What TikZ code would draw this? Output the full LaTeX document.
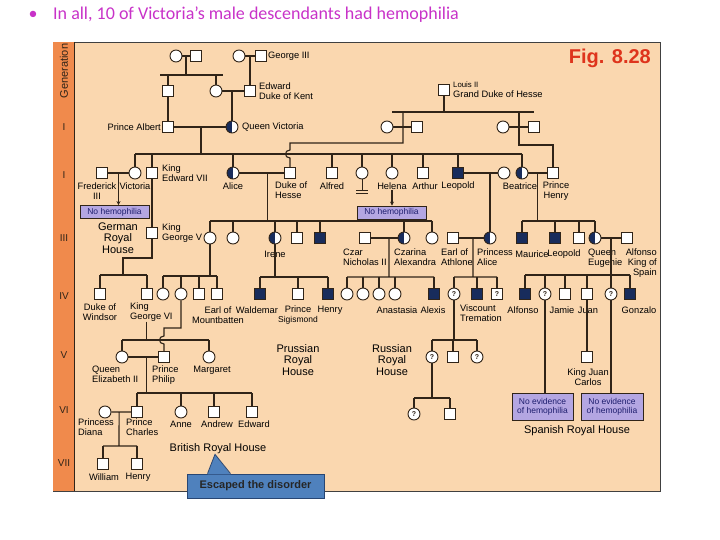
\documentclass[tikz,border=0pt]{standalone}
\usepackage{fontspec}
\setmainfont{Liberation Sans}
\newfontfamily\headfont{Carlito}
\usetikzlibrary{calc,arrows.meta}
\definecolor{peach}{RGB}{250,215,175}
\definecolor{genorange}{RGB}{240,138,76}
\definecolor{affected}{RGB}{24,44,92}
\definecolor{linec}{RGB}{48,36,24}
\definecolor{lavender}{RGB}{180,166,226}
\definecolor{boxtext}{RGB}{30,30,110}
\definecolor{calloutblue}{RGB}{79,129,189}
\definecolor{calloutedge}{RGB}{40,70,115}
\definecolor{headmagenta}{RGB}{200,50,200}
\definecolor{figred}{RGB}{222,52,28}
\tikzset{ln/.style={draw=linec, line width=1.1pt}}
\tikzset{thinln/.style={draw=linec, line width=0.5pt}}
\tikzset{sq/.style={rectangle, draw=linec, line width=0.9pt, fill=white, minimum size=11.5pt, inner sep=0pt}}
\tikzset{hs/.style={sq, fill=affected}}
\tikzset{ci/.style={circle, draw=linec, line width=0.9pt, fill=white, minimum size=12pt, inner sep=0pt}}
\tikzset{cc/.style={ci, path picture={\fill[affected] (path picture bounding box.south west) rectangle (path picture bounding box.north);}}}
\tikzset{uc/.style={ci, text=linec, font=\bfseries\fontsize{7}{7}\selectfont}}
\tikzset{us/.style={sq, text=linec, font=\bfseries\fontsize{7}{7}\selectfont}}
\tikzset{lab/.style={inner sep=0pt, align=center, font=\fontsize{9.3}{10}\selectfont}}
\tikzset{house/.style={inner sep=0pt, align=center, font=\fontsize{11}{11.5}\selectfont}}
\tikzset{nobox/.style={draw=linec, line width=0.8pt, fill=lavender, text=boxtext, inner sep=0pt, align=center, font=\fontsize{8.5}{8.8}\selectfont}}
\tikzset{gen/.style={inner sep=0pt, text=linec, font=\fontsize{10}{10}\selectfont}}
\tikzset{arr/.style={-{Stealth[length=4pt,width=4pt]}}}

\begin{document}
\begin{tikzpicture}[x=1pt, y=-1pt]
\useasboundingbox (0,0) rectangle (720,540);
\node[text=headmagenta, font=\headfont\fontsize{18}{18}\selectfont, inner sep=0pt] (bullet) at (33,15) {\textbullet};
\node[anchor=west, text=headmagenta, font=\headfont\fontsize{18}{18}\selectfont, inner sep=0pt] (title) at (53,15) {In all, 10 of Victoria’s male descendants had hemophilia};
\draw[fill=peach, draw=black!75, line width=0.8pt] (53,42) rectangle (660,491);
\fill[genorange] (53.4,42.4) rectangle (74,490.6);
\draw[linec, line width=0.7pt] (74,42) -- (74,491);
\node[gen, rotate=90, font=\fontsize{11}{11}\selectfont] (genlab) at (64,71) {Generation};
\node[gen] (gi) at (64,127) {I};
\node[gen] (gii) at (64,175) {I};
\node[gen] (giii) at (64,238) {III};
\node[gen] (giv) at (64,296) {IV};
\node[gen] (gv5) at (64,355) {V};
\node[gen] (gvi6) at (64,410) {VI};
\node[gen] (gvii) at (64,463) {VII};
\node[anchor=east, inner sep=0pt, text=figred, font=\bfseries\fontsize{20}{20}\selectfont] (fig) at (651,58) {Fig. 8.28};

% top generations
\node[ci] (gm1) at (176,56) {};
\node[sq] (gf1) at (196,56) {};
\node[ci] (gm2) at (239,56) {};
\node[sq] (g3) at (261,56) {};
\node[lab, anchor=west] (g3lab) at (268,56) {George III};
\node[sq] (a1) at (168,91) {};
\node[ci] (vm) at (216,91) {};
\node[sq] (ekent) at (250,91) {};
\node[lab, anchor=west, align=left] (ekentlab) at (259,91) {Edward\\Duke of Kent};
\node[sq] (louis) at (444,90) {};
\node[lab, anchor=west, align=left] (louislab) at (453,90) {{\fontsize{7.8}{8}\selectfont Louis II}\\Grand Duke of Hesse};
\node[sq] (albert) at (168,127) {};
\node[lab, anchor=east] (albertlab) at (161,127) {Prince Albert};
\node[cc] (qv) at (232,127) {};
\node[lab, anchor=west] (qvlab) at (242,127) {Queen Victoria};
\node[ci] (hm1) at (387,127) {};
\node[sq] (hf1) at (417,127) {};
\node[ci] (hm2) at (503,127) {};
\node[sq] (hf2) at (534,127) {};

\coordinate (sb0) at (186,75);
\coordinate (sb1) at (201,154);
\coordinate (sb2) at (444,112);
\coordinate (hd1) at (403,143);
\coordinate (hd2) at (519,145);
\draw[ln] (gm1) -- (gf1) (gm2) -- (g3) (vm) -- (ekent) (albert) -- (qv) (hm1) -- (hf1) (hm2) -- (hf2);
\draw[ln] (sb0 |- gm1) -- (sb0) ([xshift=-8pt]a1 |- sb0) -- ([xshift=7pt]vm |- sb0);
\draw[ln] (a1 |- sb0) -- (a1) (vm |- sb0) -- (vm) (ekent |- gm2) -- (ekent);
\draw[ln] (a1) -- (albert) (qv |- vm) -- (qv) (sb1 |- albert) -- (sb1);
\draw[ln] (louis) -- (sb2) ([xshift=5pt]hm1 |- sb2) -- (hf2 |- sb2);

% generation II
\node[sq] (fred) at (102,173) {};
\node[ci] (vic) at (135,173) {};
\node[sq] (edw) at (152,173) {};
\node[cc] (alice) at (233,173) {};
\node[sq] (hesse) at (290,173) {};
\node[sq] (alfred) at (332,173) {};
\node[ci] (louise) at (362,173) {};
\node[ci] (helena) at (392,173) {};
\node[sq] (arthur) at (423,173) {};
\node[hs] (leo) at (458,173) {};
\node[ci] (helen) at (504,173) {};
\node[cc] (beat) at (522,173) {};
\node[sq] (henry) at (553,173) {};
\node[lab] (fredlab) at (97,191) {Frederick\\III};
\node[lab] (viclab) at (135,186) {Victoria};
\node[lab, anchor=west, align=left] (edwlab) at (162,173) {King\\Edward VII};
\node[lab] (alicelab) at (233,186) {Alice};
\node[lab, anchor=north west, align=left] (hesselab) at (275,181.5) {Duke of\\Hesse};
\node[lab] (alfredlab) at (332,186) {Alfred};
\node[lab] (helenalab) at (392,186) {Helena};
\node[lab] (arthurlab) at (425,186) {Arthur};
\node[lab] (leolab) at (458,186) {Leopold};
\node[lab] (beatlab) at (520,186) {Beatrice};
\node[lab] (henrylab) at (556,191) {Prince\\Henry};
\node[nobox, minimum width=69pt, minimum height=13pt] (nh1) at (114.5,212) {No hemophilia};
\node[nobox, minimum width=69pt, minimum height=13pt] (nh2) at (391.5,212.5) {No hemophilia};

\draw[ln] (vic |- sb1) -- (beat |- sb1);
\draw[ln] (vic |- sb1) -- (vic) (edw |- sb1) -- (edw) (alice |- sb1) -- (alice) (alfred |- sb1) -- (alfred)
  (louise |- sb1) -- (louise) (helena |- sb1) -- (helena) (arthur |- sb1) -- (arthur) (leo |- sb1) -- (leo) (beat |- sb1) -- (beat);
\draw[ln] (hd1 |- sb2) -- (hd1) -- (hesse |- hd1) -- ([yshift=4pt]hesse |- sb1)
  .. controls +(-6,0) and +(-6,0) .. ([yshift=-4pt]hesse |- sb1) -- (hesse);
\draw[ln] (hd2 |- sb2) -- (hd2) -- (henry |- hd2) -- (henry);
\draw[ln] (fred) -- (vic) (alice) -- (hesse) (leo) -- (helen) (beat) -- (henry);
\coordinate (fd) at ($(fred)!.5!(vic)$);
\draw[ln, arr] (fd) -- (fd |- nh1.north);
\draw[ln, arr] (helenalab.south) -- (helenalab.south |- nh2.north);
\draw[linec, line width=0.8pt] (louise.south) -- ++(0,11) ++(-6,0) -- ++(12,0) ++(-12,3) -- ++(12,0);

% generation III
\node[house] (german) at (118,238) {German\\Royal\\House};
\node[sq] (gv) at (152,233) {};
\node[lab, anchor=west, align=left] (gvlab) at (162,233) {King\\George V};
\node[ci] (vmh) at (210,238) {};
\node[ci] (ella) at (233,238) {};
\node[cc] (irene) at (275,238) {};
\node[sq] (ernst) at (297,238) {};
\node[hs] (fritz) at (320,238) {};
\node[sq] (nicky) at (365,238) {};
\node[cc] (alix) at (404,238) {};
\node[ci] (vcm) at (432,238) {};
\node[sq] (athlone) at (453,238) {};
\node[cc] (palice) at (490,238) {};
\node[hs] (maurice) at (522,238) {};
\node[hs] (leo2) at (555,238) {};
\node[sq] (alex) at (579,238) {};
\node[cc] (ena) at (595,238) {};
\node[sq] (alfonso) at (627,238) {};
\node[lab] (irenelab) at (275,254) {Irene};
\node[lab, anchor=north west, align=left] (nickylab) at (343,249) {Czar\\Nicholas II};
\node[lab, anchor=north west, align=left] (alixlab) at (394,249) {Czarina\\Alexandra};
\node[lab, anchor=north west, align=left] (athlonelab) at (441,249) {Earl of\\Athlone};
\node[lab, anchor=north west, align=left] (palicelab) at (477,249) {Princess\\Alice};
\node[lab] (mauricelab) at (532,254) {Maurice};
\node[lab] (leo2lab) at (564,254) {Leopold};
\node[lab, anchor=north west, align=left] (enalab) at (588,249) {Queen\\Eugenie};
\node[lab, anchor=north east, align=right] (alfonsolab) at (657,249) {Alfonso\\King of\\Spain};

\coordinate (sb3) at (123,258);
\coordinate (sbw) at (123,275);
\coordinate (sba) at (267,221);
\coordinate (ad) at ($(alice)!.6!(hesse)$);
\coordinate (bd) at ($(beat)!.5!(henry)$);
\coordinate (sbb) at (539,221);
\draw[ln] (edw) -- (gv) (gv) -- (gv |- sb3) -- (sb3) -- (sbw);
\draw[ln] (ad) -- (ad |- sba) (vmh |- sba) -- (vcm |- sba);
\draw[ln] (vmh |- sba) -- (vmh) (ella |- sba) -- (ella) (irene |- sba) -- (irene) (ernst |- sba) -- (ernst)
  (fritz |- sba) -- (fritz) (alix |- sba) -- (alix) (vcm |- sba) -- (vcm);
\draw[ln] (palice |- leo) -- (palice);
\draw[ln] (bd) -- (bd |- sbb) (maurice |- sbb) -- (ena |- sbb);
\draw[ln] (maurice |- sbb) -- (maurice) (leo2 |- sbb) -- (leo2) (alex |- sbb) -- (alex) (ena |- sbb) -- (ena);
\draw[ln] (nicky) -- (alix) (athlone) -- (palice) (ena) -- (alfonso);

% generation IV
\node[sq] (windsor) at (100,294) {};
\node[sq] (gvi) at (147,294) {};
\node[ci] (mb1) at (163,294) {};
\node[ci] (mb2) at (181,294) {};
\node[sq] (mb3) at (199,294) {};
\node[sq] (mb4) at (217,294) {};
\node[hs] (waldemar) at (260,294) {};
\node[sq] (sigi) at (298,294) {};
\node[hs] (henryp) at (328,294) {};
\node[ci] (ro1) at (347,294) {};
\node[ci] (ro2) at (363,294) {};
\node[ci] (ro3) at (379,294) {};
\node[ci] (ro4) at (395,294) {};
\node[hs] (alexis) at (434,294) {};
\node[uc] (at1) at (454,294) {?};
\node[hs] (tremat) at (477,294) {};
\node[us] (at3) at (497,294) {?};
\node[hs] (sp1) at (525,294) {};
\node[uc] (sp2) at (545,294) {?};
\node[sq] (jamie) at (565,294) {};
\node[sq] (juan) at (587,294) {};
\node[uc] (sp5) at (611,294) {?};
\node[hs] (gonzalo) at (630,294) {};
\node[lab] (windsorlab) at (100,312) {Duke of\\Windsor};
\node[lab, anchor=north west, align=left] (gvilab) at (130,302.5) {King\\George VI};
\node[lab] (mblab) at (218,315) {Earl of\\Mountbatten};
\node[lab] (waldemarlab) at (257,310) {Waldemar};
\node[lab] (sigilab) at (298,315) {Prince\\{\fontsize{8.5}{9}\selectfont Sigismond}};
\node[lab] (henryplab) at (330,310) {Henry};
\node[lab] (anastasialab) at (397,310) {Anastasia};
\node[lab] (alexislab) at (433,310) {Alexis};
\node[lab, anchor=north west, align=left] (trematlab) at (460,305) {Viscount\\Tremation};
\node[lab] (sp1lab) at (523,310) {Alfonso};
\node[lab] (jamielab) at (562,310) {Jamie};
\node[lab] (juanlab) at (588,310) {Juan};
\node[lab] (gonzalolab) at (639,310) {Gonzalo};

\coordinate (sbm) at (210,276);
\coordinate (sbi) at (275,277);
\coordinate (nd) at ($(nicky)!.615!(alix)$);
\coordinate (sbn) at (389,277);
\coordinate (ld) at ($(athlone)!.54!(palice)$);
\coordinate (sbl) at (473,277);
\coordinate (sbs) at (611,275);
\draw[ln] (windsor |- sbw) -- (gvi |- sbw) (windsor |- sbw) -- (windsor) (gvi |- sbw) -- (gvi);
\draw[ln] (vmh) -- (sbm) (mb1 |- sbm) -- (mb4 |- sbm);
\draw[ln] (mb1 |- sbm) -- (mb1) (mb2 |- sbm) -- (mb2) (mb3 |- sbm) -- (mb3) (mb4 |- sbm) -- (mb4);
\draw[ln] (irene) -- (sbi) (waldemar |- sbi) -- (henryp |- sbi);
\draw[ln] (waldemar |- sbi) -- (waldemar) (sigi |- sbi) -- (sigi) (henryp |- sbi) -- (henryp);
\draw[ln] (nd) -- (sbn) (ro1 |- sbn) -- (alexis |- sbn);
\draw[ln] (ro1 |- sbn) -- (ro1) (ro2 |- sbn) -- (ro2) (ro3 |- sbn) -- (ro3) (ro4 |- sbn) -- (ro4) (alexis |- sbn) -- (alexis);
\draw[ln] (ld) -- (sbl) (at1 |- sbl) -- (at3 |- sbl);
\draw[ln] (at1 |- sbl) -- (at1) (tremat |- sbl) -- (tremat) (at3 |- sbl) -- (at3);
\draw[ln] (sp5 |- ena) -- (sp5) (sp1 |- sbs) -- (gonzalo |- sbs);
\draw[ln] (sp1 |- sbs) -- (sp1) (sp2 |- sbs) -- (sp2) (jamie |- sbs) -- (jamie) (juan |- sbs) -- (juan) (gonzalo |- sbs) -- (gonzalo);

% generation V
\node[ci] (qe2) at (122,357) {};
\node[sq] (philip) at (164,357) {};
\node[ci] (margaret) at (209,357) {};
\node[uc] (v1) at (432,357) {?};
\node[sq] (v2) at (453,357) {};
\node[uc] (v3) at (477,357) {?};
\node[sq] (jc) at (587,357) {};
\node[lab, anchor=north west, align=left] (qe2lab) at (92,365.5) {Queen\\Elizabeth II};
\node[lab, anchor=north west, align=left] (philiplab) at (152,365.5) {Prince\\Philip};
\node[lab] (margaretlab) at (212,370) {Margaret};
\node[lab] (jclab) at (588,377) {King Juan\\Carlos};
\node[house] (prussian) at (298,360) {Prussian\\Royal\\House};
\node[house] (russian) at (392,360) {Russian\\Royal\\House};
\node[nobox, minimum width=61pt, minimum height=27pt] (ne1) at (542.5,407) {No evidence\\of hemophilia};
\node[nobox, minimum width=62pt, minimum height=27pt] (ne2) at (612,407) {No evidence\\of hemophilia};
\node[house] (spanish) at (577,431) {Spanish Royal House};

\coordinate (sbe) at (146,340);
\coordinate (pd) at (181,328);
\coordinate (sbt) at (454,340);
\draw[thinln] (gvilab.south -| sbe) -- (sbe);
\draw[ln] (qe2 |- sbe) -- (margaret |- sbe) (qe2 |- sbe) -- (qe2) (margaret |- sbe) -- (margaret);
\draw[ln] (mb2) -- (pd) -- (philip |- pd) -- ([yshift=4pt]philip |- sbe)
  .. controls +(-6,0) and +(-6,0) .. ([yshift=-4pt]philip |- sbe) -- (philip);
\draw[ln] (qe2) -- (philip);
\draw[ln] (at1) -- (sbt) (v1 |- sbt) -- (v3 |- sbt);
\draw[ln] (v1 |- sbt) -- (v1) (v2 |- sbt) -- (v2) (v3 |- sbt) -- (v3);
\draw[ln] (juan) -- (jc);
\draw[ln] (sp2) -- (sp2 |- ne1.north) (sp5) -- (sp5 |- ne2.north);

% generations VI and VII
\node[ci] (diana) at (105,412) {};
\node[sq] (charles) at (137,412) {};
\node[ci] (anne) at (181,412) {};
\node[sq] (andrew) at (214,412) {};
\node[sq] (edward) at (252,412) {};
\node[uc] (w1) at (414,414) {?};
\node[sq] (w2) at (450,414) {};
\node[sq] (william) at (103,464) {};
\node[sq] (harry) at (137,464) {};
\node[lab, anchor=north west, align=left] (dianalab) at (78,418.5) {Princess\\Diana};
\node[lab, anchor=north west, align=left] (charleslab) at (126,418.5) {Prince\\Charles};
\node[lab] (annelab) at (181,424) {Anne};
\node[lab] (andrewlab) at (217,424) {Andrew};
\node[lab] (edwardlab) at (254,424) {Edward};
\node[lab] (williamlab) at (104,477) {William};
\node[lab] (harrylab) at (138,477) {Henry};
\node[house] (brh) at (218,449) {British Royal House};

\coordinate (sbc) at (146,393);
\coordinate (dd) at ($(diana)!.44!(charles)$);
\coordinate (sbd) at (119,446);
\coordinate (sbx) at (432,398);
\draw[thinln] (sbe |- qe2) -- (sbc);
\draw[ln] (charles |- sbc) -- (edward |- sbc);
\draw[ln] (charles |- sbc) -- (charles) (anne |- sbc) -- (anne) (andrew |- sbc) -- (andrew) (edward |- sbc) -- (edward);
\draw[ln] (diana) -- (charles) (dd) -- (sbd) (william |- sbd) -- (harry |- sbd);
\draw[ln] (william |- sbd) -- (william) (harry |- sbd) -- (harry);
\draw[ln] (v1) -- (sbx) (w1 |- sbx) -- (w2 |- sbx) (w1 |- sbx) -- (w1) (w2 |- sbx) -- (w2);

\node[fill=calloutblue, draw=calloutedge, line width=0.8pt, minimum width=137pt, minimum height=24pt, inner sep=0pt, text=black!85, font=\bfseries\fontsize{11}{11}\selectfont] (esc) at (255.5,486) {Escaped the disorder};
\fill[calloutblue] ([xshift=-48pt, yshift=-0.8pt]esc.north) -- ([xshift=-3pt]brh.south) -- ([xshift=-25pt, yshift=-0.8pt]esc.north) -- cycle;
\draw[calloutedge, line width=0.8pt] ([xshift=-48pt]esc.north) -- ([xshift=-3pt]brh.south) -- ([xshift=-25pt]esc.north);
\end{tikzpicture}
\end{document}
